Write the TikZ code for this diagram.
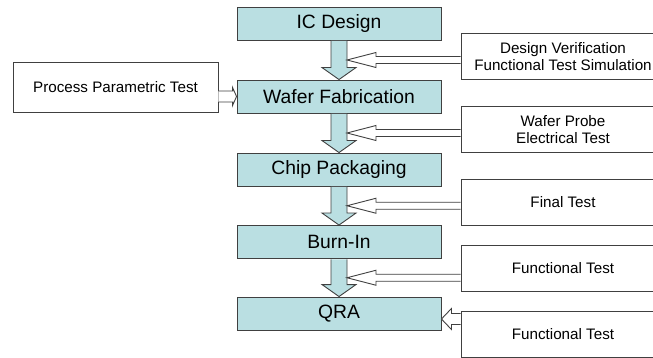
\documentclass[tikz,border=0pt]{standalone}
\usepackage{fontspec}
\setmainfont{Liberation Sans}
\definecolor{StageColor}{RGB}{186,223,226}
\definecolor{EdgeColor}{RGB}{64,64,64}
\usetikzlibrary{calc}
\tikzstyle{stage} = [draw=EdgeColor, fill=StageColor, line width=0.9pt, minimum width=204pt, minimum height=33pt, inner sep=0pt, font=\fontsize{19.3}{22}\selectfont]
\tikzstyle{testbox} = [draw=EdgeColor, fill=white, line width=0.9pt, minimum width=204pt, minimum height=46pt, inner sep=0pt, align=center, font=\fontsize{15.2}{17}\selectfont]
\tikzstyle{flow} = [draw=EdgeColor, fill=StageColor, line width=0.9pt, line join=miter]
\tikzstyle{feed} = [draw=EdgeColor, fill=white, line width=0.9pt, line join=miter]
% down arrow between two stages
\newcommand{\stagearrow}[2]{%
  \draw[flow] let \p1=(#1.south), \p2=(#2.north) in
    ({\x1-8pt},{\y1-0.5pt}) -- ({\x1-8pt},{\y2+12pt}) -- ({\x1-17pt},{\y2+12pt}) -- (\x1,\y2)
    -- ({\x1+17pt},{\y2+12pt}) -- ({\x1+8pt},{\y2+12pt}) -- ({\x1+8pt},{\y1-0.5pt});
}
% hollow arrow: tail, tip, shaft half, head half, head length
\newcommand{\feedarrow}[5]{%
  \draw[feed] let \p1=(#1), \p2=(#2) in
    (\x1,{\y1+#3}) -- ({\x2+#5},{\y1+#3}) -- ({\x2+#5},{\y1+#4}) -- (\x2,\y1)
    -- ({\x2+#5},{\y1-#4}) -- ({\x2+#5},{\y1-#3}) -- (\x1,{\y1-#3});
}

\begin{document}
\begin{tikzpicture}[x=1pt, y=-1pt]
    \useasboundingbox (0,0) rectangle (653,358);

    % Process flow
    \foreach \name/\txt/\y in {ic/IC Design/23.5, wafer/Wafer Fabrication/96.5, chip/Chip Packaging/169.5, burn/Burn-In/242, qra/QRA/313.5} {
            \node[stage] (\name) at (339,\y) {\txt};
        }
    \foreach \a/\b in {ic/wafer, wafer/chip, chip/burn, burn/qra} {
            \stagearrow{\a}{\b}
        }

    % Tests
    \node[testbox, minimum width=205pt, minimum height=50pt] (ppt) at (115.5,87) {Process Parametric Test};
    \node[testbox] (dv) at (563,56.5) {Design Verification\\Functional Test Simulation};
    \node[testbox] (wp) at (563,129.5) {Wafer Probe\\Electrical Test};
    \node[testbox] (final) at (563,202) {Final Test};
    \node[testbox] (func1) at (563,268) {Functional Test};
    \node[testbox] (func2) at (563,334) {Functional Test};

    \coordinate (g1) at ($(ic.south)!0.5!(wafer.north)+(8,0)$);
    \coordinate (g2) at ($(wafer.south)!0.5!(chip.north)+(8,0)$);
    \coordinate (g3) at ($(chip.south)!0.5!(burn.north)+(8,0)$);
    \coordinate (g4) at ($(burn.south)!0.5!(qra.north)+(8,0)$);
    \coordinate (g5) at ($(qra.east)+(0,5.5)$);

    \feedarrow{dv.west |- g1}{g1}{3.5pt}{7.5pt}{29pt}
    \feedarrow{wp.west |- g2}{g2}{3.5pt}{7.5pt}{29pt}
    \feedarrow{final.west |- g3}{g3}{3.5pt}{7.5pt}{29pt}
    \feedarrow{func1.west |- g4}{g4}{3.5pt}{7.5pt}{29pt}
    \feedarrow{func2.west |- g5}{g5}{5.5pt}{10.5pt}{10pt}
    \feedarrow{ppt.east |- wafer.west}{wafer.west}{5.5pt}{9pt}{-4pt}
\end{tikzpicture}
\end{document}
